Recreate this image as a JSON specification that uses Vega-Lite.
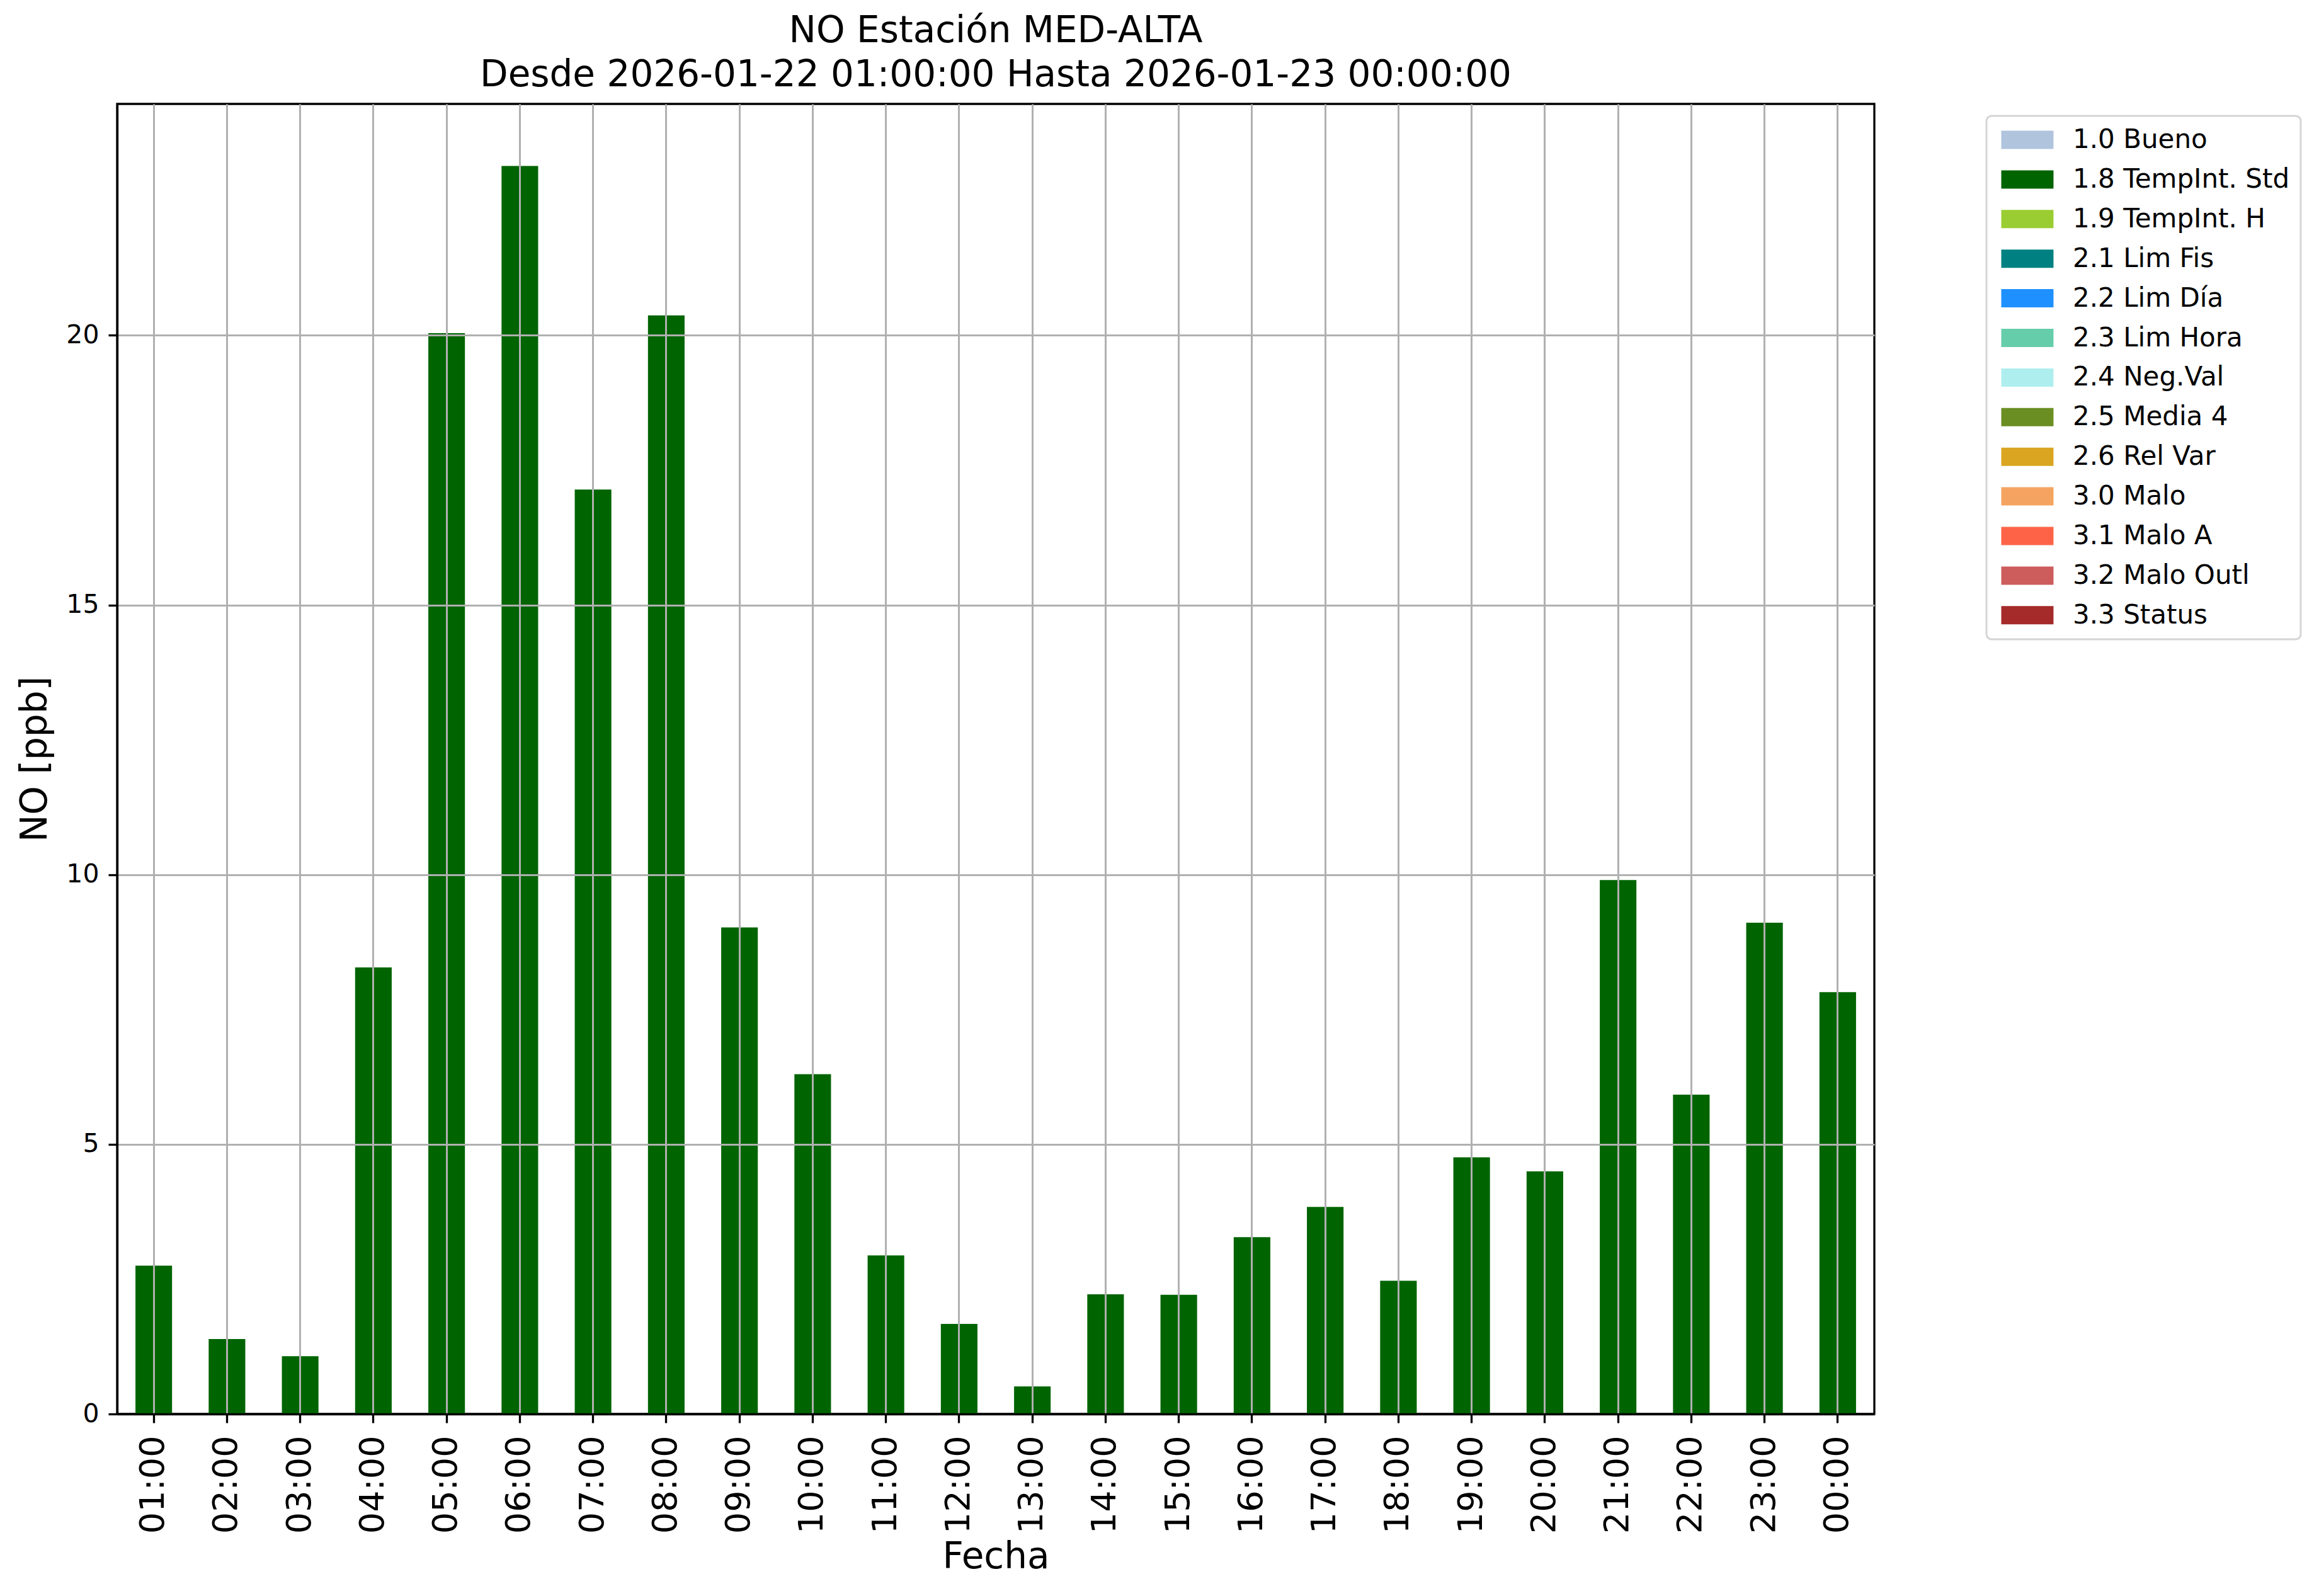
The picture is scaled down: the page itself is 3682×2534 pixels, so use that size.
{
  "$schema": "https://vega.github.io/schema/vega-lite/v6.json",
  "autosize": {"type": "none"},
  "padding": {"left": 186, "top": 165, "right": 706, "bottom": 289},
  "width": 2790,
  "height": 2080,
  "background": "white",
  "config": {
    "font": "DejaVu Sans",
    "view": {"stroke": "black", "strokeWidth": 3.3},
    "legend": {"strokeWidth": 3}
  },
  "title": {
    "text": ["NO Estación MED-ALTA", "Desde 2026-01-22 01:00:00 Hasta 2026-01-23 00:00:00"],
    "font": "DejaVu Sans",
    "fontSize": 58,
    "fontWeight": "normal",
    "color": "black",
    "anchor": "middle",
    "frame": "group",
    "baseline": "bottom",
    "lineHeight": 70,
    "offset": -42
  },
  "data": {
    "values": [
      {"hora": "01:00", "no": 2.75, "estado": "1.8 TempInt. Std"},
      {"hora": "02:00", "no": 1.39, "estado": "1.8 TempInt. Std"},
      {"hora": "03:00", "no": 1.07, "estado": "1.8 TempInt. Std"},
      {"hora": "04:00", "no": 8.28, "estado": "1.8 TempInt. Std"},
      {"hora": "05:00", "no": 20.04, "estado": "1.8 TempInt. Std"},
      {"hora": "06:00", "no": 23.14, "estado": "1.8 TempInt. Std"},
      {"hora": "07:00", "no": 17.14, "estado": "1.8 TempInt. Std"},
      {"hora": "08:00", "no": 20.37, "estado": "1.8 TempInt. Std"},
      {"hora": "09:00", "no": 9.02, "estado": "1.8 TempInt. Std"},
      {"hora": "10:00", "no": 6.3, "estado": "1.8 TempInt. Std"},
      {"hora": "11:00", "no": 2.94, "estado": "1.8 TempInt. Std"},
      {"hora": "12:00", "no": 1.67, "estado": "1.8 TempInt. Std"},
      {"hora": "13:00", "no": 0.51, "estado": "1.8 TempInt. Std"},
      {"hora": "14:00", "no": 2.22, "estado": "1.8 TempInt. Std"},
      {"hora": "15:00", "no": 2.21, "estado": "1.8 TempInt. Std"},
      {"hora": "16:00", "no": 3.28, "estado": "1.8 TempInt. Std"},
      {"hora": "17:00", "no": 3.84, "estado": "1.8 TempInt. Std"},
      {"hora": "18:00", "no": 2.47, "estado": "1.8 TempInt. Std"},
      {"hora": "19:00", "no": 4.76, "estado": "1.8 TempInt. Std"},
      {"hora": "20:00", "no": 4.5, "estado": "1.8 TempInt. Std"},
      {"hora": "21:00", "no": 9.9, "estado": "1.8 TempInt. Std"},
      {"hora": "22:00", "no": 5.92, "estado": "1.8 TempInt. Std"},
      {"hora": "23:00", "no": 9.11, "estado": "1.8 TempInt. Std"},
      {"hora": "00:00", "no": 7.82, "estado": "1.8 TempInt. Std"}
    ]
  },
  "mark": {"type": "bar"},
  "encoding": {
    "x": {
      "field": "hora",
      "type": "ordinal",
      "sort": null,
      "scale": {"paddingInner": 0.5, "paddingOuter": 0.25},
      "axis": {
        "title": "Fecha",
        "titleFont": "DejaVu Sans",
        "titleFontSize": 58,
        "titleFontWeight": "normal",
        "titleColor": "black",
        "titlePadding": 9,
        "labelFont": "DejaVu Sans",
        "labelFontSize": 54,
        "labelColor": "black",
        "labelAngle": 270,
        "labelAlign": "right",
        "labelBaseline": "middle",
        "labelPadding": 20,
        "labelOverlap": false,
        "labelLimit": 400,
        "bandPosition": 0.5,
        "ticks": true,
        "tickSize": 14,
        "tickWidth": 3.3,
        "tickColor": "black",
        "domain": true,
        "domainColor": "black",
        "domainWidth": 3.3,
        "grid": true,
        "gridColor": "#b0b0b0",
        "gridWidth": 3,
        "zindex": 1
      }
    },
    "y": {
      "field": "no",
      "type": "quantitative",
      "scale": {"domain": [0, 24.29], "nice": false, "zero": true},
      "axis": {
        "title": "NO [ppb]",
        "titleFont": "DejaVu Sans",
        "titleFontSize": 58,
        "titleFontWeight": "normal",
        "titleColor": "black",
        "titlePadding": 19,
        "labelFont": "DejaVu Sans",
        "labelFontSize": 41,
        "labelColor": "black",
        "labelPadding": 15,
        "values": [0, 5, 10, 15, 20],
        "tickSize": 14,
        "tickWidth": 3.3,
        "tickColor": "black",
        "domainColor": "black",
        "domainWidth": 3.3,
        "grid": true,
        "gridColor": "#b0b0b0",
        "gridWidth": 3,
        "zindex": 1
      }
    },
    "color": {
      "field": "estado",
      "type": "nominal",
      "scale": {
        "domain": ["1.0 Bueno", "1.8 TempInt. Std", "1.9 TempInt. H", "2.1 Lim Fis", "2.2 Lim Día", "2.3 Lim Hora", "2.4 Neg.Val", "2.5 Media 4", "2.6 Rel Var", "3.0 Malo", "3.1 Malo A", "3.2 Malo Outl", "3.3 Status"],
        "range": ["#B0C4DE", "#006400", "#9ACD32", "#008080", "#1E90FF", "#66CDAA", "#AFEEEE", "#6B8E23", "#DAA520", "#F4A460", "#FF6347", "#CD5C5C", "#A52A2A"]
      },
      "legend": {
        "title": null,
        "orient": "none",
        "legendX": 2968,
        "legendY": 19,
        "padding": 17,
        "strokeColor": "#d5d5d5",
        "fillColor": "white",
        "cornerRadius": 8,
        "symbolType": "M-1,-1H4.72V1H-1Z",
        "symbolSize": 841,
        "symbolStrokeWidth": 0,
        "symbolOpacity": 1,
        "labelFont": "DejaVu Sans",
        "labelFontSize": 42,
        "labelColor": "black",
        "labelOffset": 78,
        "labelLimit": 600,
        "rowPadding": 20.9,
        "values": ["1.0 Bueno", "1.8 TempInt. Std", "1.9 TempInt. H", "2.1 Lim Fis", "2.2 Lim Día", "2.3 Lim Hora", "2.4 Neg.Val", "2.5 Media 4", "2.6 Rel Var", "3.0 Malo", "3.1 Malo A", "3.2 Malo Outl", "3.3 Status"]
      }
    }
  }
}
